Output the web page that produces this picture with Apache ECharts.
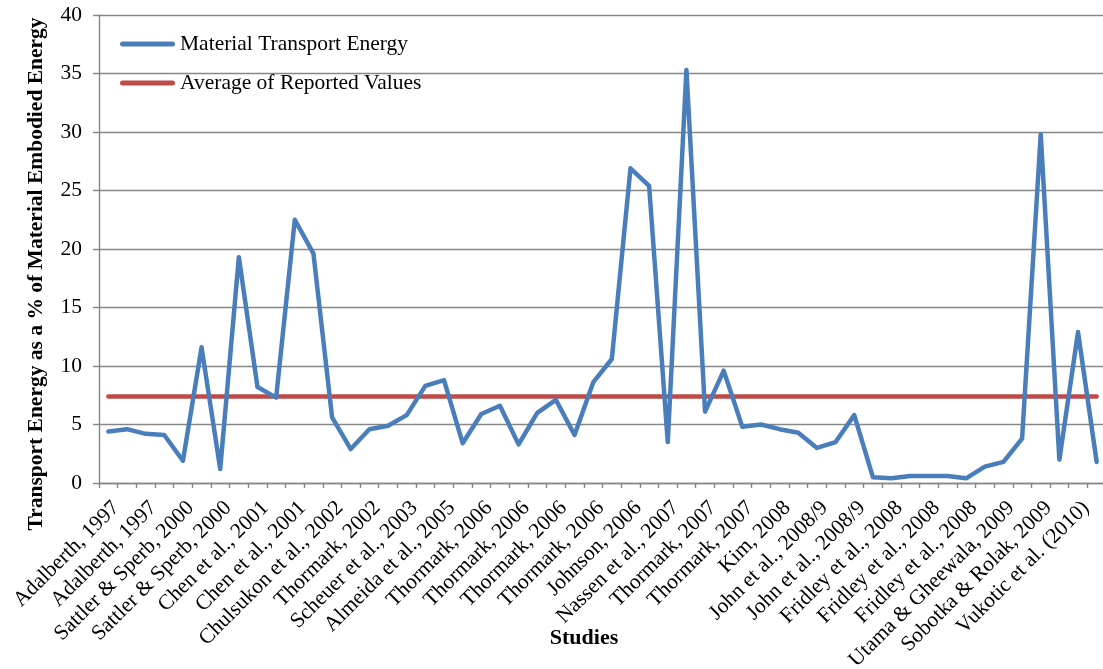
<!DOCTYPE html>
<html>
<head>
<meta charset="utf-8">
<title>Transport Energy as a % of Material Embodied Energy</title>
<script src="https://cdn.jsdelivr.net/npm/echarts@6/dist/echarts.min.js"></script>
<style>
  html, body { margin: 0; padding: 0; background: #ffffff; }
  #chart { width: 1103px; height: 669px; }
</style>
</head>
<body>
<div id="chart"></div>
<script>
// Study names shown on the axis (every other data point carries a label)
const studyLabels = [
  'Adalberth, 1997', 'Adalberth, 1997', 'Sattler & Sperb, 2000', 'Sattler & Sperb, 2000',
  'Chen et al., 2001', 'Chen et al., 2001', 'Chulsukon et al., 2002', 'Thormark, 2002',
  'Scheuer et al., 2003', 'Almeida et al., 2005', 'Thormark, 2006', 'Thormark, 2006',
  'Thormark, 2006', 'Thormark, 2006', 'Johnson, 2006', 'Nassen et al., 2007',
  'Thormark, 2007', 'Thormark, 2007', 'Kim, 2008', 'John et al., 2008/9',
  'John et al., 2008/9', 'Fridley et al., 2008', 'Fridley et al., 2008', 'Fridley et al., 2008',
  'Utama & Gheewala, 2009', 'Sobotka & Rolak, 2009', 'Vukotic et al. (2010)'
];

// Transport energy (% of material embodied energy), one value per reported case
const transportEnergy = [
  4.4, 4.6, 4.2, 4.1, 1.9, 11.6, 1.2, 19.3, 8.2, 7.3,
  22.5, 19.6, 5.6, 2.9, 4.6, 4.9, 5.8, 8.3, 8.8, 3.4,
  5.9, 6.6, 3.3, 6.0, 7.1, 4.1, 8.6, 10.6, 26.9, 25.4,
  3.5, 35.3, 6.1, 9.6, 4.8, 5.0, 4.6, 4.3, 3.0, 3.5,
  5.8, 0.5, 0.4, 0.6, 0.6, 0.6, 0.4, 1.4, 1.8, 3.8,
  29.8, 2.0, 12.9, 1.8
];

// Mean of the reported values
const averageValue = 7.4;

// Y-axis ticks
const yTicks = [0, 5, 10, 15, 20, 25, 30, 35, 40];

// Two cases per labelled study: the first of each pair carries the name
const categories = [];
studyLabels.forEach(function (name) { categories.push(name, name); });
const averageLine = categories.map(function () { return averageValue; });

const SERIF = '"Liberation Serif", "Times New Roman", serif';
const GRID_GRAY = '#868686';
const LABEL_SIZE = 21.5;
const TITLE_SIZE = 21.5;
const capsule = 'path://M2.5,0 L52.5,0 A2.5,2.5 0 0 1 52.5,5 L2.5,5 A2.5,2.5 0 0 1 2.5,0 Z';

const chart = echarts.init(document.getElementById('chart'), null, { renderer: 'canvas' });

chart.setOption({
  animation: false,
  backgroundColor: '#ffffff',
  grid: { left: 99, top: 15, right: -3, bottom: 186, containLabel: false, outerBoundsMode: 'none' },
  legend: {
    orient: 'vertical',
    left: 120,
    top: 33,
    padding: 0,
    itemWidth: 55,
    itemHeight: 5,
    itemGap: 17,
    textStyle: { fontFamily: SERIF, fontSize: LABEL_SIZE, color: '#000000', lineHeight: 22 },
    data: [
      { name: 'Material Transport Energy', icon: capsule },
      { name: 'Average of Reported Values', icon: capsule }
    ]
  },
  xAxis: {
    type: 'category',
    data: categories,
    boundaryGap: true,
    axisLine: { show: true, lineStyle: { color: GRID_GRAY, width: 1.4 } },
    axisTick: { show: true, interval: 0, length: 5, lineStyle: { color: GRID_GRAY, width: 1.4 } },
    axisLabel: {
      interval: 1,
      rotate: 45,
      margin: 14,
      align: 'right',
      verticalAlign: 'top',
      fontFamily: SERIF,
      fontSize: LABEL_SIZE,
      color: '#000000'
    },
    splitLine: { show: false }
  },
  yAxis: {
    type: 'value',
    min: yTicks[0],
    max: yTicks[yTicks.length - 1],
    interval: yTicks[1] - yTicks[0],
    axisLine: { show: true, lineStyle: { color: GRID_GRAY, width: 1.4 } },
    axisTick: { show: true, inside: false, length: 6, lineStyle: { color: GRID_GRAY, width: 1.4 } },
    axisLabel: { margin: 17, fontFamily: SERIF, fontSize: LABEL_SIZE, color: '#000000' },
    splitLine: { show: true, lineStyle: { color: GRID_GRAY, width: 1.4 } }
  },
  graphic: [
    {
      type: 'text',
      x: 36,
      y: 274,
      rotation: Math.PI / 2,
      style: {
        text: 'Transport Energy as a % of Material Embodied Energy',
        fontFamily: SERIF,
        fontSize: TITLE_SIZE,
        fontWeight: 'bold',
        fill: '#000000',
        align: 'center',
        verticalAlign: 'middle'
      }
    },
    {
      type: 'text',
      x: 584,
      y: 638,
      style: {
        text: 'Studies',
        fontFamily: SERIF,
        fontSize: 22,
        fontWeight: 'bold',
        fill: '#000000',
        align: 'center',
        verticalAlign: 'middle'
      }
    }
  ],
  series: [
    {
      name: 'Average of Reported Values',
      type: 'line',
      data: averageLine,
      symbol: 'none',
      z: 2,
      color: '#BE4B48',
      lineStyle: { color: '#BE4B48', width: 4.5, cap: 'round' }
    },
    {
      name: 'Material Transport Energy',
      type: 'line',
      data: transportEnergy,
      symbol: 'none',
      z: 3,
      color: '#4A7EBB',
      lineStyle: { color: '#4A7EBB', width: 4.5, cap: 'round', join: 'round' }
    }
  ]
});
</script>
</body>
</html>
